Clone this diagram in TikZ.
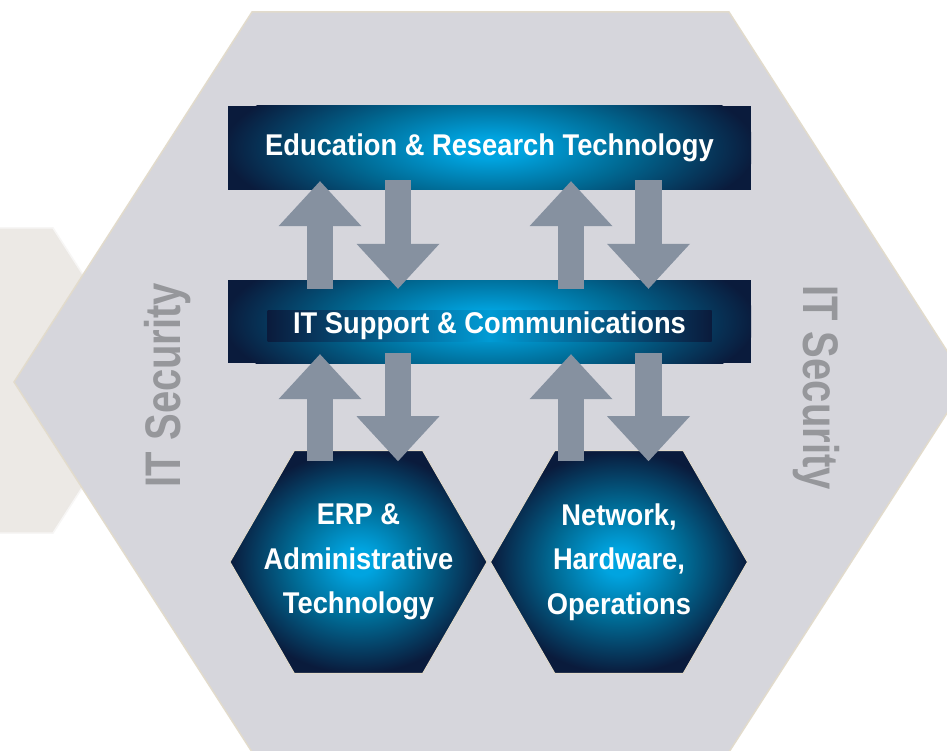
\documentclass[tikz,border=0pt]{standalone}
\usepackage{fontspec}
\usepackage{tikz}
\usetikzlibrary{arrows.meta,shapes.geometric,calc}

\newfontfamily\labfont{Liberation Sans}[FakeStretch=0.91]
\newfontfamily\secfont{Liberation Sans}[FakeStretch=0.80]

\definecolor{navyc}{HTML}{0A1B3C}
\definecolor{glowmid}{HTML}{006A94}
\definecolor{glowcyan}{HTML}{00A4E0}
\definecolor{hexgrey}{HTML}{D6D6DC}
\definecolor{hexrim}{HTML}{E2DBCC}
\definecolor{sidegrey}{HTML}{ECE9E5}
\definecolor{arrowgrey}{HTML}{8691A0}
\definecolor{secgrey}{HTML}{96979B}

\pgfdeclareradialshading{glow}{\pgfpoint{0bp}{0bp}}{color(0bp)=(glowcyan); color(3bp)=(glowcyan); color(13bp)=(glowmid); color(25bp)=(navyc); color(50bp)=(navyc)}

\begin{document}
\begin{tikzpicture}[x=1pt, y=-1pt,
    box/.style={rectangle, fill=navyc, minimum width=523pt, inner sep=0pt, text=white,
      font=\labfont\bfseries\fontsize{30}{44.5}\selectfont,
      path picture={\shade[shading=glow] (path picture bounding box.center) ellipse [x radius=266, y radius=88];}},
    band/.style={rectangle, inner sep=0pt, minimum width=444pt, minimum height=31pt,
      left color=navyc, right color=navyc, middle color=glowcyan!85!glowmid, text=white,
      font=\labfont\bfseries\fontsize{30}{44.5}\selectfont},
    hexa/.style={regular polygon, regular polygon sides=6, minimum size=257pt, inner sep=0pt,
      draw=hexrim, line width=1pt, shade, shading=glow},
    hextext/.style={text=white, align=center, inner sep=0pt,
      font=\labfont\bfseries\fontsize{30}{44.5}\selectfont},
    flow/.style={arrowgrey, line width=26.5pt, -{Triangle[width=83pt, length=45pt, line width=0pt]}},
    sec/.style={text=secgrey, anchor=base, inner sep=0pt, font=\secfont\bfseries\fontsize{50}{60}\selectfont}]

    \useasboundingbox (0,0) rectangle (947,751);
    \clip (0,0) rectangle (947,751);
    \fill[white] (0,0) rectangle (947,751);

    % background hexagons
    \draw[sidegrey!40!white, line width=1.5pt, fill=sidegrey] (-120,228) -- (53,228) -- (151,380.5) -- (53,533) -- (-120,533) -- cycle;
    \draw[hexrim, line width=1.5pt, fill=hexgrey] (252,12) -- (729,12) -- (967,382) -- (729,752) -- (252,752) -- (14,382) -- cycle;

    \node[sec, rotate=90]  (secl) at (180,385)   {IT Security};
    \node[sec, rotate=-90] (secr) at (803,387.5) {IT Security};

    % layers
    \node[box, minimum height=84pt] (edu) at (489.5,148) {Education \& Research Technology};
    \node[box, minimum height=83pt] (support) [below of=edu, node distance=173.5pt] {};
    \node[band, yshift=-4pt] (supporttxt) at (support) {IT Support \& Communications};
    \node[hexa] (erp) at (358.5,562) {};
    \node[hexa] (net) [right of=erp, node distance=260.5pt] {};
    \node[hextext] (erptxt) at (erp) {ERP \&\\Administrative\\Technology};
    \node[hextext] (nettxt) at (net) {Network,\\Hardware,\\Operations};

    \foreach \dx in {-169.5,81.5} {
        \draw[flow] ($([xshift=\dx pt]edu.south |- support.north)+(0,9)$) -- ($([xshift=\dx pt]edu.south)+(0,-9)$);
        \draw[flow] ($([xshift=\dx pt]support.south |- erp.north)+(0,11)$) -- ($([xshift=\dx pt]support.south)+(0,-9)$);
    }
    \foreach \dx in {-91.5,159} {
        \draw[flow] ($([xshift=\dx pt]edu.south)+(0,-10)$) -- ($([xshift=\dx pt]edu.south |- support.north)+(0,9)$);
        \draw[flow] ($([xshift=\dx pt]support.south)+(0,-10)$) -- ($([xshift=\dx pt]support.south |- erp.north)+(0,11)$);
    }
\end{tikzpicture}
\end{document}
